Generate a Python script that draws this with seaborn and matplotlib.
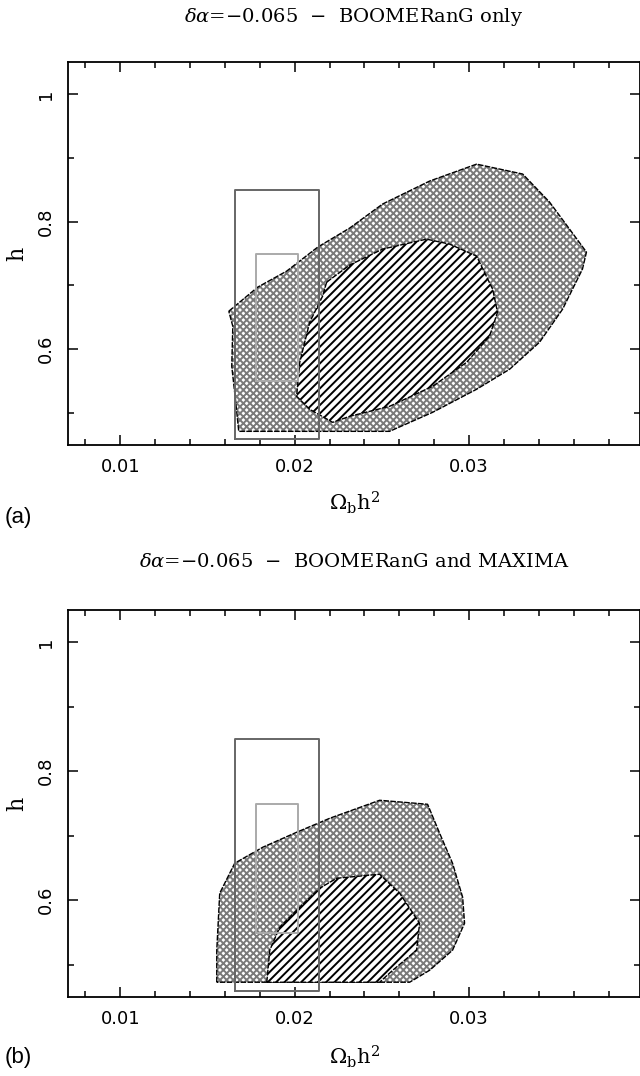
import numpy as np
import pandas as pd
import matplotlib
matplotlib.use("Agg")
import matplotlib.pyplot as plt
from matplotlib.ticker import MultipleLocator, FixedLocator
import seaborn as sns

# ---------------- data ----------------
titles = ["$\\delta\\alpha$=\u22120.065  \u2212  BOOMERanG only",
          "$\\delta\\alpha$=\u22120.065  \u2212  BOOMERanG and MAXIMA"]
panel_tags = ["(a)", "(b)"]

# panel (a): outer (crosshatched) and inner (hatched) likelihood contours
outer_a_x = [0.01622, 0.01788, 0.01954, 0.02132, 0.02315, 0.02504, 0.02774, 0.03043,
             0.03307, 0.03461, 0.03576, 0.03673, 0.03650, 0.03536, 0.03404, 0.03232,
             0.03043, 0.02791, 0.02544, 0.01679, 0.01662, 0.01639, 0.01645]
outer_a_y = [0.6596, 0.6973, 0.7224, 0.7600, 0.7898, 0.8275, 0.8635, 0.8900,
             0.8745, 0.8306, 0.7882, 0.7522, 0.7255, 0.6627, 0.6110, 0.5686,
             0.5373, 0.5012, 0.4714, 0.4714, 0.5169, 0.5733, 0.6360]
inner_a_x = [0.02183, 0.02315, 0.02504, 0.02756, 0.02888, 0.03043, 0.03135, 0.03163,
             0.03117, 0.02986, 0.02791, 0.02544, 0.02315, 0.02218, 0.02086, 0.02011,
             0.02029, 0.02086, 0.02160]
inner_a_y = [0.7051, 0.7318, 0.7569, 0.7725, 0.7647, 0.7459, 0.6941, 0.6580,
             0.6204, 0.5796, 0.5420, 0.5106, 0.4949, 0.4855, 0.5059, 0.5263,
             0.5796, 0.6424, 0.6831]

# panel (b)
outer_b_x = [0.01553, 0.01553, 0.01570, 0.01656, 0.01817, 0.02011, 0.02201, 0.02487,
             0.02762, 0.02831, 0.02905, 0.02963, 0.02974, 0.02905, 0.02774, 0.02659]
outer_b_y = [0.4729, 0.5225, 0.6109, 0.6574, 0.6822, 0.7054, 0.7271, 0.7550,
             0.7488, 0.7039, 0.6574, 0.6047, 0.5643, 0.5225, 0.4915, 0.4729]
inner_b_x = [0.01840, 0.01857, 0.01914, 0.02011, 0.02143, 0.02241, 0.02487, 0.02602,
             0.02716, 0.02699, 0.02562, 0.02487]
inner_b_y = [0.4729, 0.5225, 0.5581, 0.5845, 0.6186, 0.6341, 0.6403, 0.6109,
             0.5643, 0.5225, 0.4915, 0.4729]

# BBN priors: (omega_b h^2 low, high), (h low, high)
bbn_wide_x = [0.0166, 0.0214]
bbn_wide_y = [0.46, 0.85]
bbn_narrow_x = [0.0178, 0.0202]
bbn_narrow_y = [0.55, 0.75]

x_major = [0.01, 0.02, 0.03, 0.04]
x_labels = ["0.01", "0.02", "0.03", "0.04"]
y_major = [0.6, 0.8, 1.0]
y_labels = ["0.6", "0.8", "1"]

xlim = (0.007, 0.0398)
ylim = (0.45, 1.05)

# ---------------- style ----------------
sns.set_style("ticks")
plt.rcParams["font.family"] = ["DejaVu Serif"]
plt.rcParams["mathtext.fontset"] = "dejavuserif"
plt.rcParams["hatch.linewidth"] = 1.4
plt.rcParams["axes.linewidth"] = 1.3
plt.rcParams["text.color"] = "black"
plt.rcParams["axes.labelcolor"] = "black"
plt.rcParams["xtick.color"] = "black"
plt.rcParams["ytick.color"] = "black"
plt.rcParams["xtick.labelcolor"] = "black"
plt.rcParams["ytick.labelcolor"] = "black"

fig = plt.figure(figsize=(6.4, 10.76), dpi=100)
ax_a = fig.add_axes([68 / 640, 1 - 445 / 1076, 1 - 68 / 640, 383 / 1076])
ax_b = fig.add_axes([68 / 640, 1 - 997 / 1076, 1 - 68 / 640, 387 / 1076])

panels = [
    (ax_a, outer_a_x, outer_a_y, inner_a_x, inner_a_y, 1.117, -0.151, 518),
    (ax_b, outer_b_x, outer_b_y, inner_b_x, inner_b_y, 1.124, -0.155, 1058),
]


def closed(xs, ys):
    return pd.DataFrame({"x": list(xs) + [xs[0]], "y": list(ys) + [ys[0]]})


def rect(xr, yr):
    return pd.DataFrame({"x": [xr[0], xr[1], xr[1], xr[0], xr[0]],
                         "y": [yr[0], yr[0], yr[1], yr[1], yr[0]]})


for i, (ax, ox, oy, ix, iy, ty, xly, tag_y) in enumerate(panels):
    # outer contour: gray cross-hatch
    ax.fill(ox, oy, facecolor="white", edgecolor="#7a7a7a", hatch="xxxxx",
            linewidth=0, zorder=1)
    sns.lineplot(data=closed(ox, oy), x="x", y="y", sort=False, estimator=None,
                 color="black", linewidth=1.0, linestyle=(0, (4, 1)), ax=ax, zorder=2)
    # inner contour: black diagonal hatch
    ax.fill(ix, iy, facecolor="white", edgecolor="black", hatch="////",
            linewidth=0, zorder=3)
    sns.lineplot(data=closed(ix, iy), x="x", y="y", sort=False, estimator=None,
                 color="black", linewidth=1.0, linestyle=(0, (4, 1)), ax=ax, zorder=4)
    # BBN boxes
    sns.lineplot(data=rect(bbn_wide_x, bbn_wide_y), x="x", y="y", sort=False,
                 estimator=None, color="#666666", linewidth=1.4, ax=ax, zorder=5)
    sns.lineplot(data=rect(bbn_narrow_x, bbn_narrow_y), x="x", y="y", sort=False,
                 estimator=None, color="#aaaaaa", linewidth=1.4, ax=ax, zorder=5)

    ax.set_xlim(*xlim)
    ax.set_ylim(*ylim)
    ax.xaxis.set_major_locator(FixedLocator(x_major))
    ax.set_xticklabels(x_labels, family="DejaVu Sans", fontsize=13)
    ax.xaxis.set_minor_locator(MultipleLocator(0.002))
    ax.yaxis.set_major_locator(FixedLocator(y_major))
    ax.set_yticklabels(y_labels, family="DejaVu Sans", fontsize=13,
                       rotation=90, va="center")
    ax.yaxis.set_minor_locator(MultipleLocator(0.1))
    ax.tick_params(which="both", direction="in", top=True, right=True,
                   width=1.1, color="black", labelcolor="black")
    ax.tick_params(which="major", length=7, pad=9.5)
    ax.tick_params(which="minor", length=4)
    for s in ax.spines.values():
        s.set_visible(True)
        s.set_color("black")

    ax.set_xlabel("$\\Omega_{\\rm b}{\\rm h}^2$", fontsize=15, va="center",
                  color="black")
    ax.xaxis.set_label_coords(0.5, xly)
    ax.set_ylabel("h", fontsize=16, va="center", color="black")
    ax.yaxis.set_label_coords(-0.089, 0.5)
    ax.text(0.5, ty, titles[i], transform=ax.transAxes, ha="center", va="center",
            fontsize=14, color="black")
    fig.text(18 / 640, 1 - tag_y / 1076, panel_tags[i], ha="center", va="center",
             family="Liberation Sans", fontsize=16, color="black")

fig.savefig("out.png", dpi=100)
